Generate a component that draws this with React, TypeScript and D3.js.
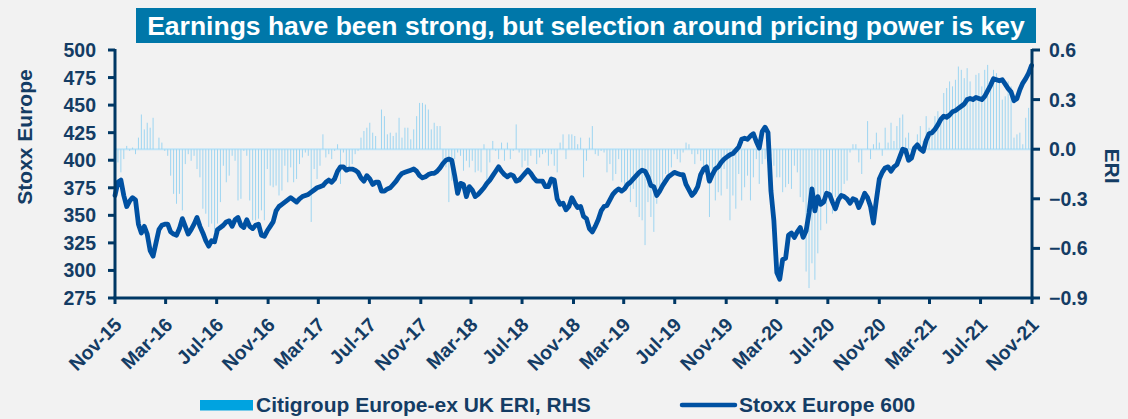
import React from 'react';
import * as d3 from 'd3';

// weekly observations, starting Nov-15
const stoxx600 = [
  368, 380, 382, 368, 358, 363, 366, 364, 342, 334,
  340, 333, 318, 313, 325, 337, 341, 342, 342, 335,
  333, 332, 338, 347, 340, 333, 337, 342, 348, 340,
  334, 327, 322, 327, 326, 337, 339, 341, 344, 345,
  340, 346, 348, 341, 339, 346, 340, 338, 341, 342,
  332, 331, 336, 340, 344, 354, 358, 360, 362, 364,
  366, 364, 362, 365, 367, 368, 369, 371, 373, 375,
  376, 377, 380, 382, 380, 383, 390, 394, 394, 391,
  392, 392, 391, 389, 384, 381, 386, 383, 378, 380,
  380, 372, 372, 374, 375, 378, 381, 385, 388, 389,
  390, 391, 392, 390, 386, 384, 385, 387, 388, 388,
  390, 393, 397, 400, 401, 400, 386, 370, 379, 378,
  367, 376, 373, 367, 369, 372, 375, 379, 382, 386,
  390, 394, 390, 387, 385, 387, 386, 381, 382, 385,
  388, 391, 388, 384, 381, 381, 381, 376, 376, 383,
  382, 365, 360, 361, 355, 358, 366, 361, 357, 358,
  349, 347, 338, 335, 340, 346, 354, 358, 359, 364,
  369, 372, 374, 372, 374, 378, 380, 383, 386, 389,
  391, 390, 385, 377, 376, 368, 372, 377, 381, 385,
  387, 389, 388, 387, 387, 378, 373, 368, 371, 376,
  387, 392, 394, 381, 387, 392, 394, 398, 401, 403,
  405, 406, 409, 412, 419, 420, 419, 422, 424, 417,
  411, 426, 430, 425, 372, 345, 298, 292, 310, 311,
  332, 334, 330, 335, 339, 330, 336, 352, 374, 354,
  367, 360, 362, 370, 369, 362, 356, 364, 368, 367,
  365, 361, 365, 364, 357, 363, 370, 366, 358, 343,
  364, 383, 389, 393, 394, 390, 394, 396, 403, 410,
  409, 400, 402, 411, 414, 410, 408, 418, 424, 425,
  428, 432, 437, 440, 439, 441, 444, 445, 447, 449,
  451, 455, 456, 455, 457, 456, 455, 458, 463, 468,
  474, 473, 472, 473, 469, 465, 462, 454, 456, 464,
  470, 474, 479, 486,
];

const citiEri = [
  -0.14, -0.08, -0.14, -0.06, 0.02, -0.01, 0.01, -0.03, 0.07, 0.21,
  0.12, 0.16, 0.13, 0.19, 0.0, 0.07, 0.04, -0.01, -0.04, -0.16,
  -0.27, -0.33, -0.27, -0.37, -0.09, -0.03, -0.07, -0.04, -0.12, -0.17,
  -0.36, -0.39, -0.47, -0.45, -0.5, -0.45, -0.32, -0.1, -0.2, -0.16,
  -0.04, -0.07, -0.31, -0.3, -0.01, -0.04, -0.31, -0.43, -0.43, -0.42,
  -0.37, -0.43, -0.12, -0.22, -0.23, -0.22, -0.28, -0.25, -0.1, -0.2,
  -0.11, -0.2, -0.18, -0.09, -0.05, -0.02, -0.04, -0.44, -0.12, -0.18,
  -0.1, 0.09, -0.05, -0.03, -0.06, -0.01, 0.03, -0.21, -0.02, -0.14,
  -0.12, -0.09, -0.03, -0.01, 0.07, 0.11, 0.13, 0.16, 0.1, 0.08,
  0.0, 0.24, 0.2, 0.09, 0.1, 0.08, 0.1, 0.19, 0.07, 0.13,
  0.13, 0.06, 0.12, 0.2, 0.28, 0.28, 0.27, 0.24, 0.12, 0.16,
  0.14, 0.14, -0.07, -0.11, -0.32, -0.19, -0.06, -0.02, -0.04, -0.13,
  -0.07, -0.11, -0.07, -0.14, -0.13, -0.14, 0.03, -0.19, -0.08, 0.05,
  -0.01, -0.06, 0.04, -0.07, 0.04, -0.06, -0.01, 0.15, -0.02, -0.11,
  -0.07, -0.1, -0.04, 0.0, -0.09, -0.05, -0.03, -0.02, -0.1, -0.03,
  -0.1, -0.14, 0.04, 0.09, -0.06, 0.09, 0.09, 0.08, 0.03, 0.07,
  -0.17, -0.07, 0.07, 0.14, -0.03, -0.04, -0.01, -0.02, -0.14, -0.09,
  -0.19, -0.15, -0.06, -0.2, -0.24, -0.24, -0.32, -0.24, -0.35, -0.41,
  -0.43, -0.58, -0.32, -0.41, -0.5, -0.33, -0.25, -0.19, -0.15, -0.15,
  -0.11, -0.03, -0.06, -0.08, -0.02, 0.04, 0.03, -0.03, -0.09, -0.03,
  -0.07, -0.13, -0.19, -0.41, -0.15, -0.31, -0.26, -0.28, -0.12, -0.24,
  -0.43, -0.28, -0.36, -0.15, -0.31, -0.23, -0.16, -0.31, -0.17, -0.06,
  -0.21, -0.09, -0.06, -0.02, -0.04, -0.1, -0.17, -0.17, -0.26, -0.23,
  -0.21, -0.24, -0.1, -0.14, -0.29, -0.32, -0.74, -0.84, -0.69, -0.79,
  -0.63, -0.49, -0.33, -0.45, -0.3, -0.39, -0.29, -0.35, -0.27, -0.21,
  -0.19, -0.02, 0.03, 0.03, -0.08, -0.15, 0.0, 0.17, -0.06, 0.03,
  0.1, 0.04, -0.04, 0.13, 0.04, 0.16, 0.05, 0.14, 0.19, 0.21,
  0.07, 0.1, -0.02, -0.01, 0.09, 0.14, 0.05, 0.2, 0.13, 0.12,
  0.2, 0.23, 0.19, 0.34, 0.37, 0.41, 0.38, 0.42, 0.5, 0.48,
  0.43, 0.49, 0.41, 0.32, 0.45, 0.46, 0.38, 0.48, 0.51, 0.42,
  0.48, 0.46, 0.4, 0.3, 0.32, 0.41, 0.38, 0.07, 0.09, 0.1,
  0.03, 0.19, 0.25, 0.22,
];

const leftTicks = [275, 300, 325, 350, 375, 400, 425, 450, 475, 500];
const rightTicks = [-0.9, -0.6, -0.3, 0.0, 0.3, 0.6];
const monthTicks = d3.range(0, 19).map((k) => new Date(2015, 10 + 4 * k, 1));

const W = 1128;
const H = 419;
const FONT = '"Liberation Sans", Arial, sans-serif';
const NAVY = '#003865';
const TEXT = '#143c64';

export default function App() {
  const start = new Date(2015, 10, 1);
  const dates = stoxx600.map((_, i) => d3.timeDay.offset(start, i * 7));

  const x = d3.scaleTime().domain([start, new Date(2021, 10, 1)]).range([115, 1032]);
  const yL = d3.scaleLinear().domain([275, 500]).range([298, 50]);
  const yR = d3.scaleLinear().domain([-0.9, 0.6]).range([298, 50]);

  const line = d3
    .line<number>()
    .x((_, i) => x(dates[i]))
    .y((d) => yL(d));

  const fmtMonth = d3.timeFormat('%b-%y');

  return (
    <div style={{ position: 'absolute', left: 0, top: 0 }}>
      <svg width={W} height={H} style={{ display: 'block' }}>
        <rect width={W} height={H} fill="#f2f2f2" />

        {/* title */}
        <rect x={136} y={8} width={900} height={35} fill="#0077a9" />
        <text x={586} y={34.5} textAnchor="middle" fill="#fff" fontFamily={FONT}
          fontWeight="bold" fontSize={26.5}>
          Earnings have been strong, but selection around pricing power is key
        </text>

        {/* ERI bars */}
        <line x1={115} x2={1032} y1={yR(0)} y2={yR(0)} stroke="#bfe4f7" strokeWidth={2} />
        {citiEri.map((v, i) => (
          <rect key={i} x={x(dates[i]) - 0.5} width={1}
            y={Math.min(yR(v), yR(0))} height={Math.abs(yR(v) - yR(0))}
            fill="#9ed5f1" />
        ))}

        {/* Stoxx line */}
        <path d={line(stoxx600) || ''} fill="none" stroke="#0051a2" strokeWidth={4.8}
          strokeLinejoin="round" strokeLinecap="round" />

        {/* axes */}
        <g stroke={NAVY} strokeWidth={3}>
          <line x1={115} x2={115} y1={49} y2={299} />
          <line x1={1032} x2={1032} y1={49} y2={299} />
          <line x1={113.5} x2={1033.5} y1={298} y2={298} />
          {leftTicks.map((t) => (
            <line key={t} x1={108} x2={115} y1={yL(t)} y2={yL(t)} />
          ))}
          {rightTicks.map((t) => (
            <line key={t} x1={1032} x2={1040} y1={yR(t)} y2={yR(t)} />
          ))}
          {monthTicks.map((d, i) => (
            <line key={i} x1={x(d)} x2={x(d)} y1={298} y2={304} />
          ))}
        </g>

        <g fill={TEXT} fontFamily={FONT} fontWeight="bold" fontSize={19.5}>
          {leftTicks.map((t) => (
            <text key={t} x={96} y={yL(t)} dy="0.36em" textAnchor="end">{t}</text>
          ))}
          {rightTicks.map((t) => (
            <text key={t} x={1049} y={yR(t)} dy="0.36em">{d3.format('.1f')(t)}</text>
          ))}
          {monthTicks.map((d, i) => (
            <text key={i} textAnchor="end" dy="0.36em"
              transform={`translate(${x(d) + 3},${321}) rotate(-45)`}>
              {fmtMonth(d)}
            </text>
          ))}
        </g>

        <g fill={TEXT} fontFamily={FONT} fontWeight="bold" fontSize={21}>
          <text textAnchor="middle" transform="translate(32,137) rotate(-90)">Stoxx Europe</text>
          <text textAnchor="middle" transform="translate(1105,166) rotate(90)">ERI</text>
        </g>

        {/* legend */}
        <rect x={200} y={400} width={53} height={10.5} fill="#00a3e0" />
        <line x1={682} x2={735} y1={405} y2={405} stroke="#0051a2" strokeWidth={4.5} strokeLinecap="round" />
        <g fill={TEXT} fontFamily={FONT} fontWeight="bold" fontSize={21}>
          <text x={256} y={412}>Citigroup Europe-ex UK ERI, RHS</text>
          <text x={739} y={412}>Stoxx Europe 600</text>
        </g>
      </svg>
    </div>
  );
}
